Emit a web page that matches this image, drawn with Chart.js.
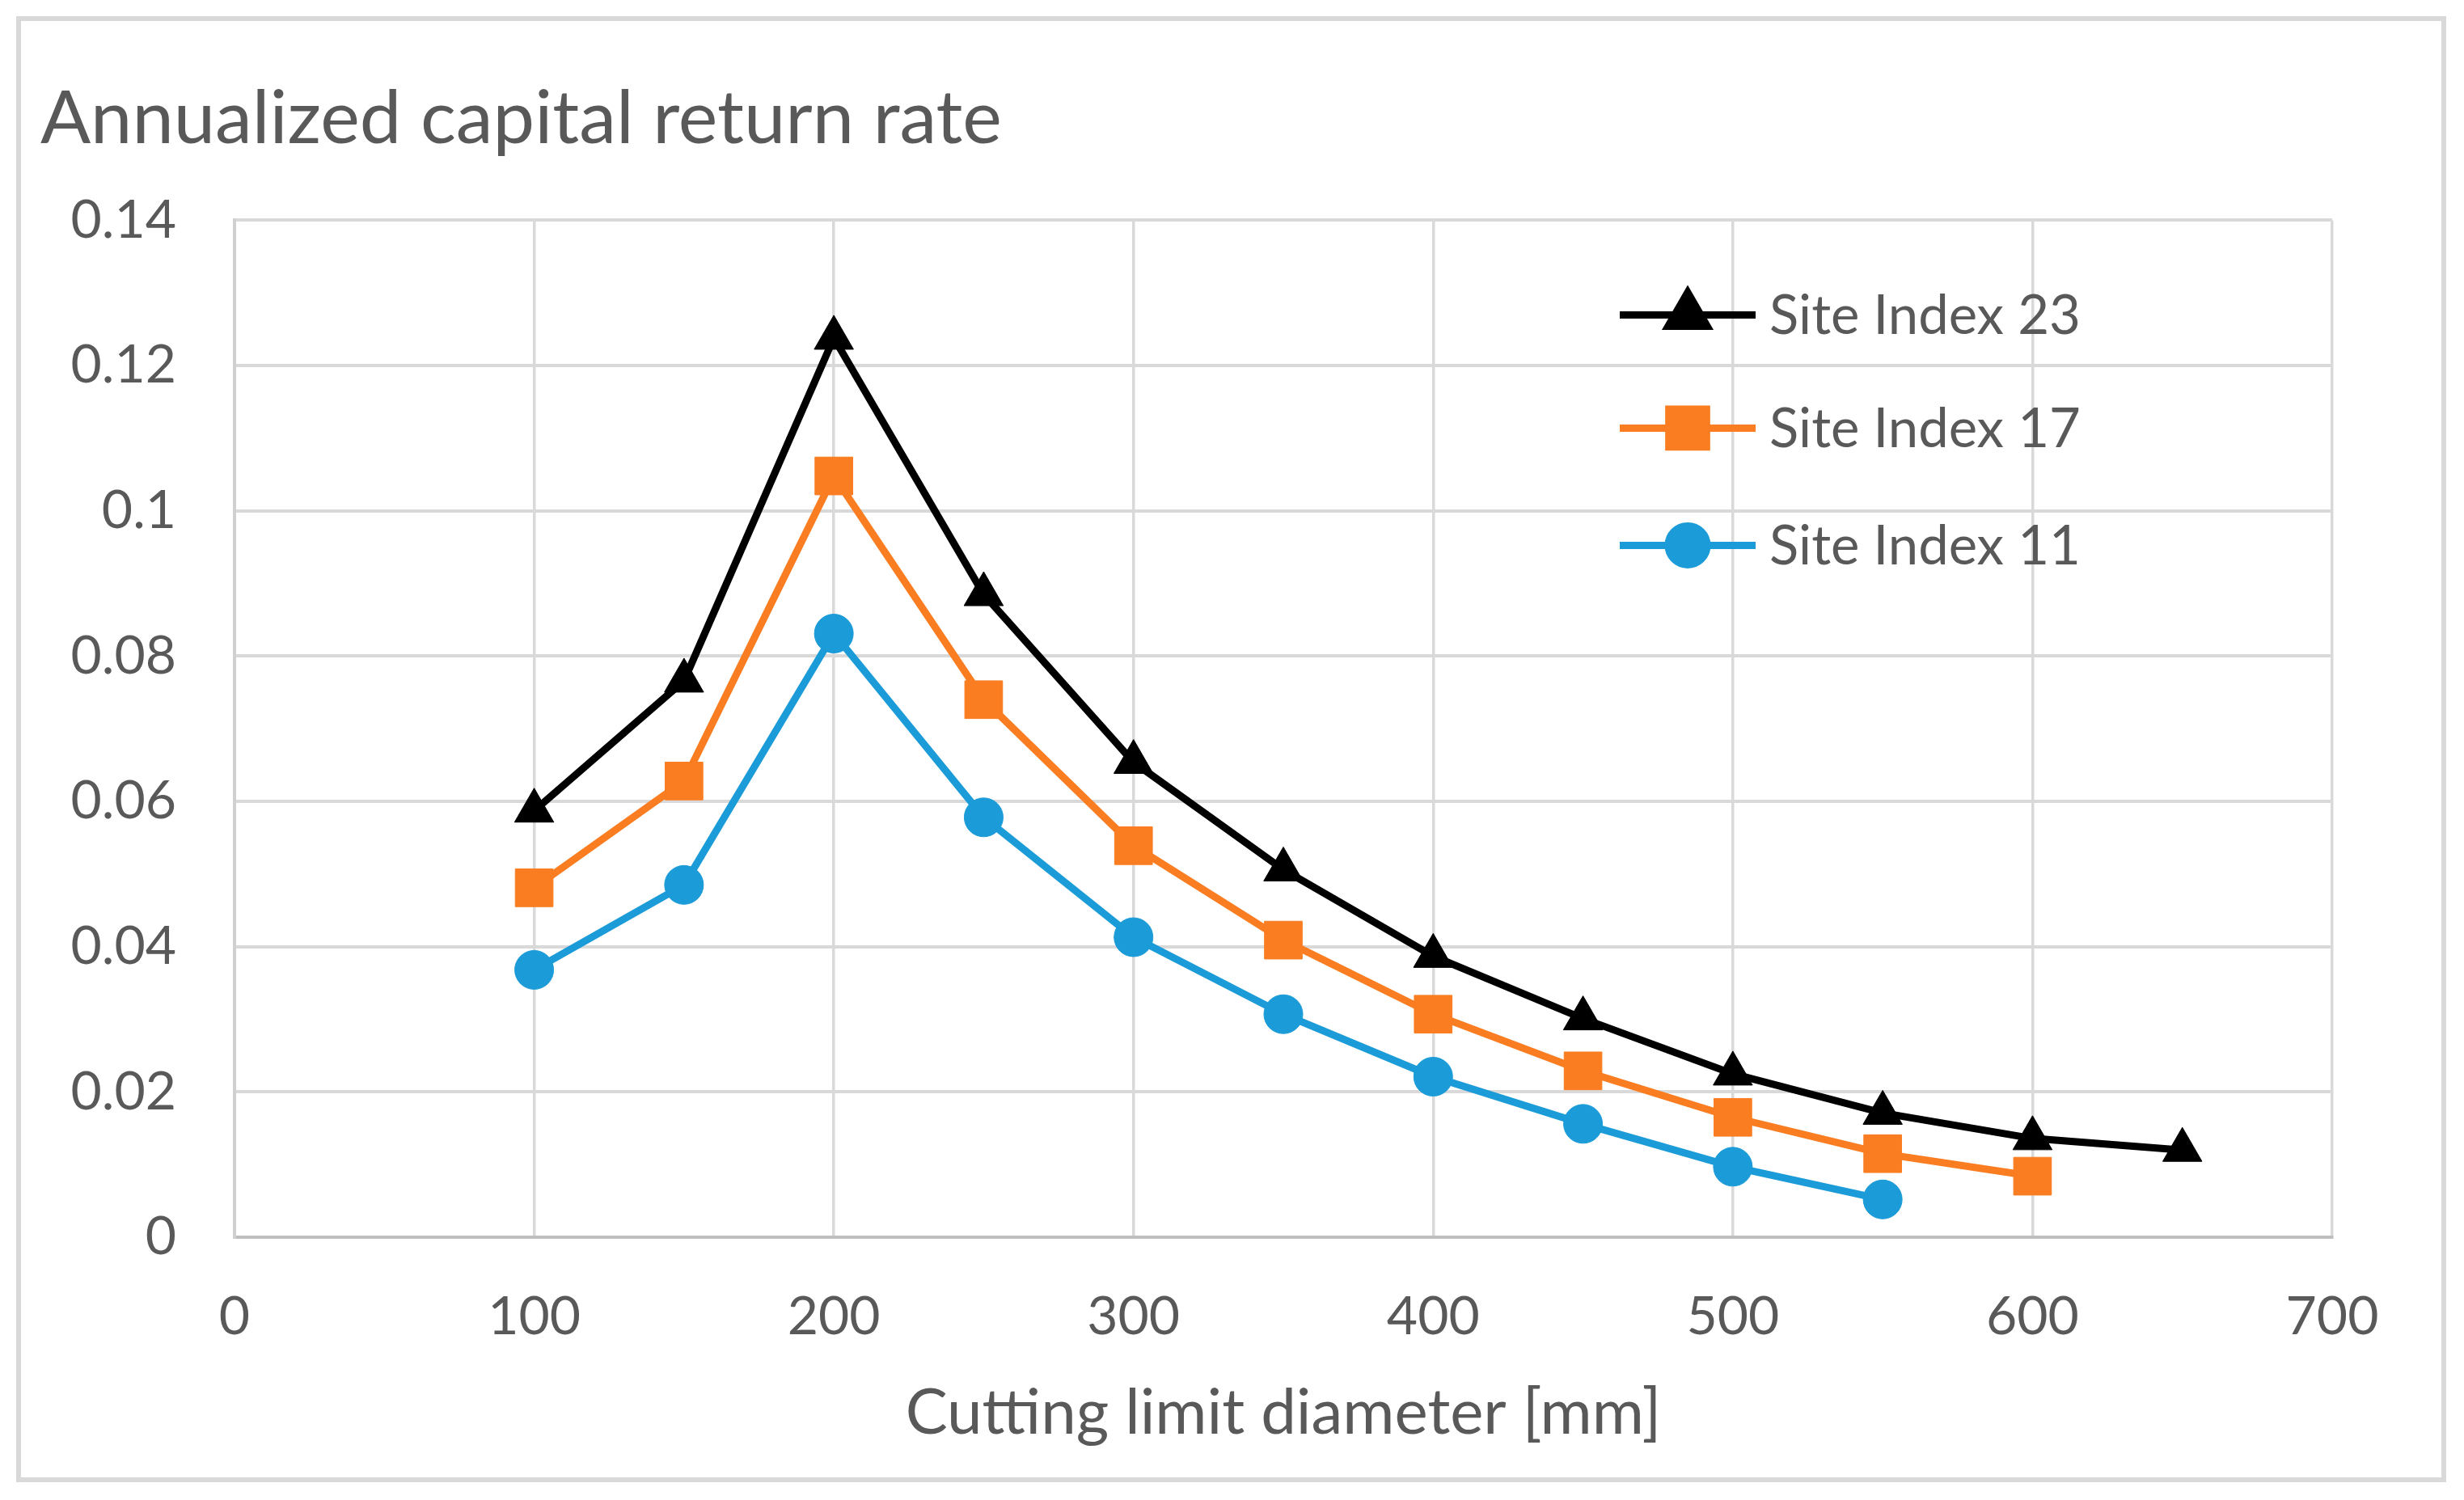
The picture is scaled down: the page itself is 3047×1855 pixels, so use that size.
<!DOCTYPE html>
<html>
<head>
<meta charset="utf-8">
<script src="https://cdn.jsdelivr.net/npm/chart.js@4.4.1/dist/chart.umd.min.js"></script>
<style>
  html, body { margin: 0; padding: 0; background: #fff; }
  canvas { display: block; }
</style>
</head>
<body>
<canvas id="chart" width="3047" height="1855"></canvas>
<script>
// cutting limit diameter [mm]
const diameters = [100, 150, 200, 250, 300, 350, 400, 450, 500, 550, 600, 650];

// annualized capital return rate per site index
const site23 = [0.0587, 0.0766, 0.1238, 0.0885, 0.0654, 0.0506, 0.0387, 0.0301, 0.0225, 0.0171, 0.0136, 0.0120];
const site17 = [0.0481, 0.0628, 0.1048, 0.0740, 0.0539, 0.0409, 0.0307, 0.0229, 0.0165, 0.0115, 0.0084];
const site11 = [0.0368, 0.0485, 0.0831, 0.0578, 0.0413, 0.0307, 0.0221, 0.0156, 0.0097, 0.0052];

const seriesNames = ['Site Index 23', 'Site Index 17', 'Site Index 11'];
const yTicks = [0, 0.02, 0.04, 0.06, 0.08, 0.1, 0.12, 0.14];
const xTicks = [0, 100, 200, 300, 400, 500, 600, 700];

const toPoints = vals => vals.map((v, i) => ({ x: diameters[i], y: v }));

Chart.defaults.font.family = 'Lato';
Chart.defaults.color = '#595959';

// grey frame round the whole picture
const frame = {
  id: 'frame',
  beforeDraw(chart) {
    const { ctx, width, height } = chart;
    ctx.save();
    ctx.fillStyle = '#fff';
    ctx.fillRect(0, 0, width, height);
    ctx.strokeStyle = '#D9D9D9';
    ctx.lineWidth = 6;
    ctx.strokeRect(23, 23, width - 48, height - 48);
    ctx.restore();
  }
};

// legend sitting inside the plot, top right
const insideLegend = {
  id: 'insideLegend',
  afterDatasetsDraw(chart) {
    const { ctx, chartArea } = chart;
    const x0 = chartArea.right - 881;
    const rows = [117, 257, 402];
    ctx.save();
    chart.data.datasets.forEach((ds, i) => {
      const y = chartArea.top + rows[i];
      ctx.strokeStyle = ds.borderColor;
      ctx.lineWidth = ds.borderWidth;
      ctx.beginPath();
      ctx.moveTo(x0, y);
      ctx.lineTo(x0 + 168, y);
      ctx.stroke();
      ctx.fillStyle = ds.pointBackgroundColor;
      ctx.strokeStyle = ds.pointBorderColor;
      Chart.helpers.drawPoint(ctx, {
        pointStyle: ds.pointStyle, radius: ds.pointRadius, rotation: 0, borderWidth: ds.pointBorderWidth
      }, x0 + 84, y);
      ctx.fillStyle = '#595959';
      ctx.font = '67px Lato';
      ctx.textAlign = 'left';
      ctx.textBaseline = 'middle';
      ctx.fillText(ds.label, x0 + 185, y + 2);
    });
    ctx.restore();
  }
};

function series(label, vals, color, shape, r) {
  return {
    label: label,
    data: toPoints(vals),
    borderColor: color,
    backgroundColor: color,
    borderWidth: 9,
    pointStyle: shape,
    pointRadius: r,
    pointHoverRadius: r,
    pointBackgroundColor: color,
    pointBorderColor: color,
    pointBorderWidth: 1,
    tension: 0
  };
}

new Chart(document.getElementById('chart'), {
  type: 'line',
  data: {
    datasets: [
      series(seriesNames[0], site23, '#000000', 'triangle', 28),
      series(seriesNames[1], site17, '#FA7D22', 'rect', 33),
      series(seriesNames[2], site11, '#1B9BD8', 'circle', 24)
    ]
  },
  options: {
    responsive: false,
    devicePixelRatio: 1,
    animation: false,
    layout: { padding: { top: 92, left: 50, right: 163, bottom: 22 } },
    plugins: {
      legend: { display: false },
      tooltip: { enabled: false },
      title: {
        display: true,
        text: 'Annualized capital return rate',
        align: 'start',
        color: '#595959',
        font: { size: 92, weight: 'normal' },
        padding: { top: 0, bottom: 70 }
      }
    },
    scales: {
      x: {
        type: 'linear',
        min: 0,
        max: 700,
        afterBuildTicks: s => { s.ticks = xTicks.map(v => ({ value: v })); },
        afterFit: s => { s.height = 303; },
        grid: { color: '#D9D9D9', lineWidth: 3.5, drawTicks: false },
        border: { color: '#BFBFBF', width: 4 },
        ticks: { font: { size: 66 }, padding: 59, color: '#595959' },
        title: {
          display: true,
          text: 'Cutting limit diameter [mm]',
          color: '#595959',
          font: { size: 78 },
          padding: { top: 38, bottom: 38 }
        }
      },
      y: {
        min: 0,
        max: 0.14,
        afterBuildTicks: s => { s.ticks = yTicks.map(v => ({ value: v })); },
        afterFit: s => { s.width = 240; },
        grid: { color: '#D9D9D9', lineWidth: 4, drawTicks: false },
        border: { color: '#D0D0D0', width: 4 },
        ticks: {
          font: { size: 66 },
          padding: 72,
          color: '#595959',
          callback: v => String(Math.round(v * 100) / 100)
        }
      }
    }
  },
  plugins: [frame, insideLegend]
});
</script>
</body>
</html>
